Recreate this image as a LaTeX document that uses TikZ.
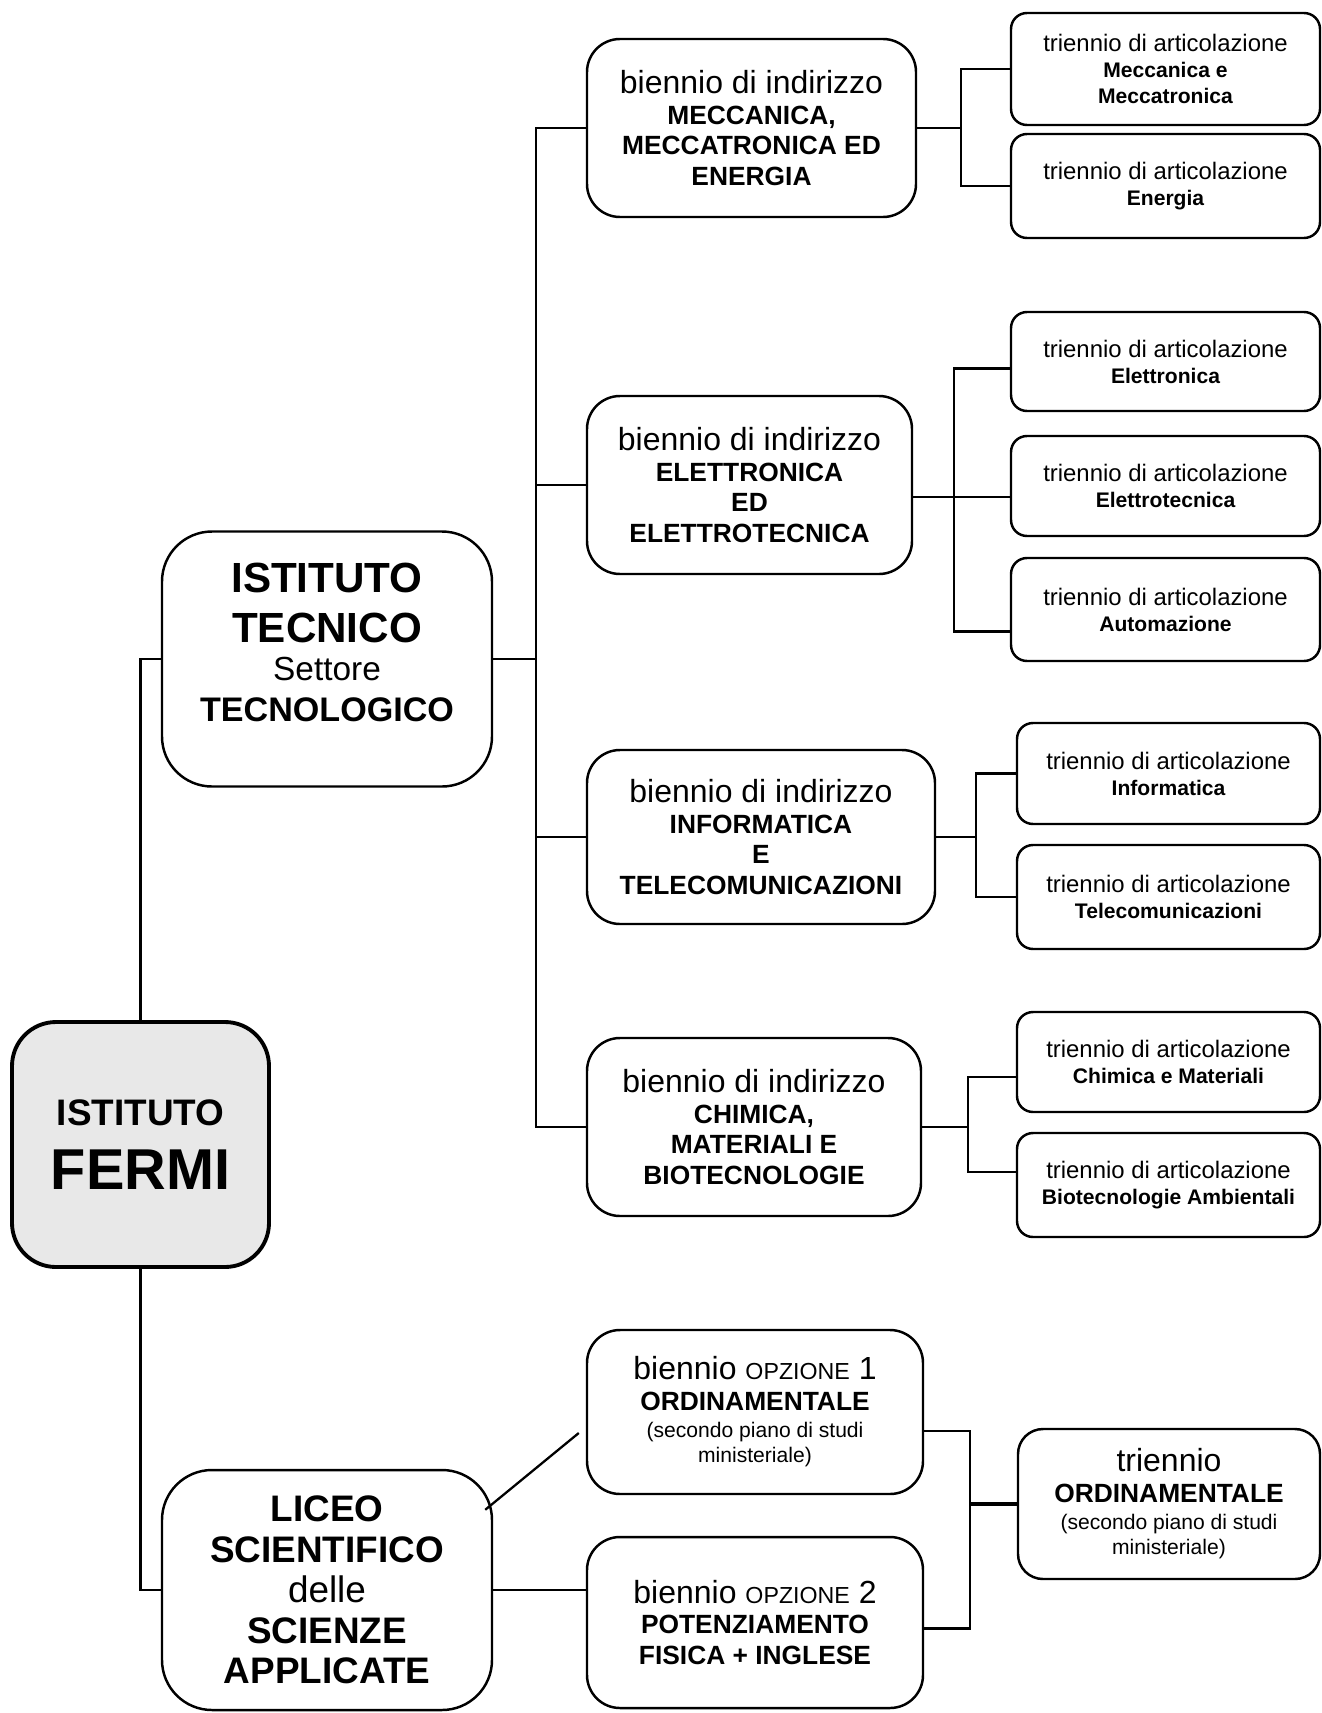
\documentclass[tikz,border=0pt]{standalone}
\usepackage{fontspec}
\setmainfont{Liberation Sans}
\newcommand{\fsz}[2]{\fontsize{#1}{#2}\selectfont}
\newcommand{\bienline}{{\mdseries\fsz{9.1}{9}biennio di indirizzo}}
\newcommand{\trieline}{{\mdseries\fsz{6.8}{7}triennio di articolazione}}
\newcommand{\smallnote}[1]{{\mdseries\fsz{6}{7}#1}}
\tikzset{
  box/.style={draw, line width=0.7pt, align=center, inner sep=0pt},
  bien/.style={box, rounded corners=3.3mm, font=\fsz{7.5}{8.7}\bfseries},
  trie/.style={box, rounded corners=1.6mm, font=\fsz{6}{7.4}\bfseries},
  link/.style={line width=0.65pt},
}
\begin{document}
\begin{tikzpicture}[x=0.1mm,y=-0.1mm]
  \useasboundingbox (0,0) rectangle (1322,1713);
  % left column
  \node[box, rounded corners=4.4mm, line width=1.1pt, fill=black!9,
    minimum width=25.7mm, minimum height=24.5mm, font=\fsz{10.5}{18}\bfseries]
    (fermi) at (140.5,1144.5) {ISTITUTO\\{\fsz{16.4}{18}FERMI}};
  \node[box, rounded corners=5mm, minimum width=33mm, minimum height=25.5mm,
    font=\fsz{12}{14.2}\bfseries] (tec) at (327,659)
    {ISTITUTO\\TECNICO\\[-3.4pt]{\mdseries\fsz{9.5}{10}Settore}\\[-2.5pt]{\fsz{9.7}{10}TECNOLOGICO}\\[-4.9pt]};
  \node[box, rounded corners=5mm, minimum width=33mm, minimum height=24mm,
    font=\fsz{10.5}{11.5}\bfseries] (lic) at (327,1590)
    {LICEO\\SCIENTIFICO\\{\mdseries delle}\\SCIENZE\\APPLICATE};
  % bienni
  \node[bien, minimum width=32.9mm, minimum height=17.8mm] (mec) at (751.5,128)
    {\bienline\\MECCANICA,\\MECCATRONICA ED\\ENERGIA};
  \node[bien, minimum width=32.5mm, minimum height=17.8mm] (ele) at (749.5,485)
    {\bienline\\ELETTRONICA\\ED\\ELETTROTECNICA};
  \node[bien, minimum width=34.8mm, minimum height=17.4mm] (inf) at (761,837)
    {\bienline\\INFORMATICA\\E\\TELECOMUNICAZIONI};
  \node[bien, minimum width=33.4mm, minimum height=17.8mm] (chi) at (754,1127)
    {\bienline\\CHIMICA,\\MATERIALI E\\BIOTECNOLOGIE};
  \node[bien, minimum width=33.6mm, minimum height=16.4mm] (opz1) at (755,1412)
    {{\mdseries\fsz{9.1}{9}biennio {\fsz{6.6}{7}OPZIONE} 1}\\ORDINAMENTALE\\[-1pt]
     \smallnote{(secondo piano di studi}\\[-1.5pt]\smallnote{ministeriale)}};
  \node[bien, minimum width=33.6mm, minimum height=17.1mm] (opz2) at (755,1622.5)
    {{\mdseries\fsz{9.1}{9}biennio {\fsz{6.6}{7}OPZIONE} 2}\\POTENZIAMENTO\\FISICA + INGLESE};
  % trienni
  \node[trie, minimum width=30.9mm, minimum height=11.2mm] (t1) at (1165.5,69)
    {\trieline\\Meccanica e\\Meccatronica};
  \node[trie, minimum width=30.9mm, minimum height=10.4mm] (t2) at (1165.5,186)
    {\trieline\\Energia};
  \node[trie, minimum width=30.9mm, minimum height=9.9mm] (t3) at (1165.5,361.5)
    {\trieline\\Elettronica};
  \node[trie, minimum width=30.9mm, minimum height=10mm] (t4) at (1165.5,486)
    {\trieline\\Elettrotecnica};
  \node[trie, minimum width=30.9mm, minimum height=10.3mm] (t5) at (1165.5,609.5)
    {\trieline\\Automazione};
  \node[trie, minimum width=30.3mm, minimum height=10.1mm] (t6) at (1168.5,773.5)
    {\trieline\\Informatica};
  \node[trie, minimum width=30.3mm, minimum height=10.4mm] (t7) at (1168.5,897)
    {\trieline\\Telecomunicazioni};
  \node[trie, minimum width=30.3mm, minimum height=10mm] (t8) at (1168.5,1062)
    {\trieline\\Chimica e Materiali};
  \node[trie, minimum width=30.3mm, minimum height=10.4mm] (t9) at (1168.5,1185)
    {\trieline\\Biotecnologie Ambientali};
  \node[bien, rounded corners=2.5mm, minimum width=30.2mm, minimum height=15mm] (tord) at (1169,1504)
    {{\mdseries\fsz{9.1}{9}triennio}\\ORDINAMENTALE\\[-1pt]
     \smallnote{(secondo piano di studi}\\[-1.5pt]\smallnote{ministeriale)}};
  % connectors
  \coordinate (bus) at (536,659);
  \coordinate (jm) at (961,128);
  \coordinate (je) at (954,497);
  \coordinate (ji) at (976,837);
  \coordinate (jc) at (968,1127);
  \coordinate (jo) at (970,1504);
  \draw[link] (fermi.north) |- (tec.west);
  \draw[link] (fermi.south) |- (lic.west);
  \draw[link] (tec.east) -- (bus);
  \foreach \b in {mec,ele,inf,chi}
    \draw[link] (bus) |- (\b.west);
  \draw[link] (mec.east) -- (jm);
  \draw[link] (t1.west) -| (jm) |- (t2.west);
  \draw[link] ([shift={(0,12)}]ele.east) -- (je);
  \draw[link] ([shift={(0,7)}]t3.west) -| (je) |- ([shift={(0,22)}]t5.west);
  \draw[link] (je) -- (je -| t4.west);
  \draw[link] (inf.east) -- (ji);
  \draw[link] (t6.west) -| (ji) |- (t7.west);
  \draw[link] (chi.east) -- (jc);
  \draw[link] ([shift={(0,15)}]t8.west) -| (jc) |- ([shift={(0,-13)}]t9.west);
  \draw[link] ([shift={(-8,41)}]lic.north east) -- ([shift={(-7,21)}]opz1.west);
  \draw[link] (lic.east) -- (lic.east -| opz2.west);
  \draw[link] ([shift={(0,19)}]opz1.east) -| (jo) |- ([shift={(0,6)}]opz2.east);
  \draw[line width=1.3pt] (jo) -- (tord.west);
\end{tikzpicture}
\end{document}
